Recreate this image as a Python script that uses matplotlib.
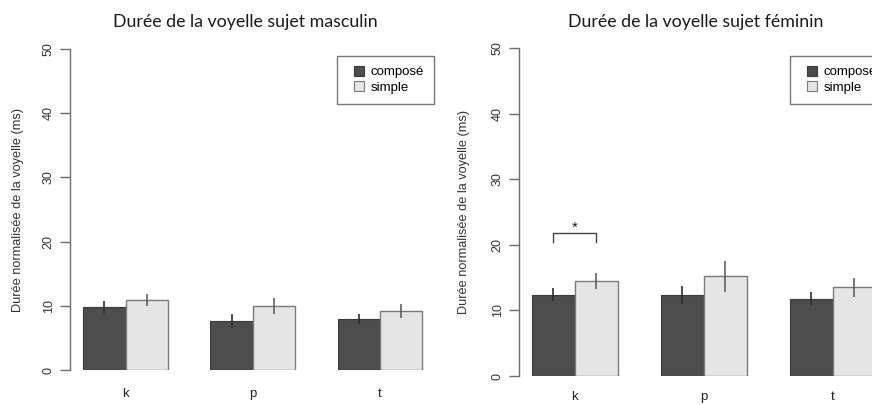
import matplotlib
matplotlib.use("Agg")
import matplotlib.pyplot as plt
from matplotlib.lines import Line2D
import numpy as np

plt.rcParams['font.family'] = ['Liberation Sans', 'DejaVu Sans']

categories = ['k', 'p', 't']
series = ['composé', 'simple']

masc_compose = [9.8, 7.6, 7.9]
masc_simple = [10.9, 9.9, 9.2]
masc_compose_err = [0.9, 1.1, 0.8]
masc_simple_err = [1.0, 1.25, 1.15]

fem_compose = [12.4, 12.3, 11.8]
fem_simple = [14.5, 15.2, 13.5]
fem_compose_err = [1.0, 1.4, 1.0]
fem_simple_err = [1.2, 2.35, 1.4]

yticks = [0, 10, 20, 30, 40, 50]

DARK = '#4d4d4d'
LIGHT = '#e5e5e5'
AXC = '#6e6e6e'

W, H = 872, 405
fig = plt.figure(figsize=(W / 100, H / 100), dpi=100)


def panel(rect, x0, scale, comp, simp, comp_err, simp_err, title, title_x, ylab_x, ylab_y, legend_xy, xpad):
    left, bottom, width, height = rect
    ax = fig.add_axes([left / W, bottom / H, width / W, height / H])
    ax.set_xlim(x0, x0 + width / scale)
    ax.set_ylim(0, 50)
    pos = np.arange(len(categories)) * 3 + 1
    ax.bar(pos, comp, width=1, align='edge', color=DARK, edgecolor='#3a3a3a', linewidth=0.8)
    ax.bar(pos + 1, simp, width=1, align='edge', color=LIGHT, edgecolor='#7a7a7a', linewidth=1.0)
    ax.errorbar(pos + 0.5, comp, yerr=comp_err, fmt='none', ecolor='#2e2e2e', elinewidth=1.2, capsize=0)
    ax.errorbar(pos + 1.5, simp, yerr=simp_err, fmt='none', ecolor='#555555', elinewidth=1.1, capsize=0)
    for s in ['top', 'right', 'bottom']:
        ax.spines[s].set_visible(False)
    ax.spines['left'].set_color(AXC)
    ax.spines['left'].set_linewidth(1.0)
    ax.set_yticks(yticks)
    ax.set_yticklabels([str(v) for v in yticks], rotation=90, va='center', fontsize=9, color='#333333')
    ax.tick_params(axis='y', length=7, width=1.0, color=AXC, pad=4)
    ax.set_xticks(pos + 1)
    ax.set_xticklabels(categories, fontsize=9.5, color='#222222')
    ax.tick_params(axis='x', length=0, pad=xpad)
    fig.text(title_x / W, 1 - 22 / H, title, ha='center', va='center', fontsize=12.8,
             family=['Lato', 'DejaVu Sans'], color='#1a1a1a')
    fig.text(ylab_x / W, 1 - ylab_y / H, 'Durée normalisée de la voyelle (ms)',
             rotation=90, ha='center', va='center', fontsize=9.2, color='#333333')
    handles = [Line2D([], [], linestyle='none', marker='s', markersize=6.5, markerfacecolor=DARK,
                      markeredgecolor='#3a3a3a', markeredgewidth=0.8),
               Line2D([], [], linestyle='none', marker='s', markersize=6.5, markerfacecolor=LIGHT,
                      markeredgecolor='#7a7a7a', markeredgewidth=0.8)]
    leg = ax.legend(handles, series, loc='upper left',
                    bbox_to_anchor=((legend_xy[0] - left) / width, 1 - (legend_xy[1] - (H - bottom - height)) / height),
                    fontsize=9.5, frameon=True, fancybox=False, handlelength=1.9,
                    handletextpad=-0.1, labelspacing=0.25, borderpad=0.75, borderaxespad=0)
    leg.get_frame().set_edgecolor('#555555')
    leg.get_frame().set_linewidth(1.0)
    return ax, pos


# masculine panel
panel((70, 35, 380, 321), 0.69, 42.4, masc_compose, masc_simple, masc_compose_err, masc_simple_err,
      'Durée de la voyelle sujet masculin', 245, 18, 210, (337, 56), 13)

# feminine panel (clipped on the right, as in the original)
ax2, pos2 = panel((519, 29, 420, 328), 0.70, 43.0, fem_compose, fem_simple, fem_compose_err, fem_simple_err,
                  'Durée de la voyelle sujet féminin', 696, 464, 212, (790, 56), 11)

# significance bracket over k
bx0, bx1 = pos2[0] + 0.5, pos2[0] + 1.5
ax2.plot([bx0, bx0, bx1, bx1], [20.5, 21.8, 21.8, 20.5], color='#444444', linewidth=1.0, clip_on=False)
ax2.text((bx0 + bx1) / 2, 22.6, '*', ha='center', va='center', fontsize=11, color='#222222')

fig.savefig('out.png', dpi=100)
